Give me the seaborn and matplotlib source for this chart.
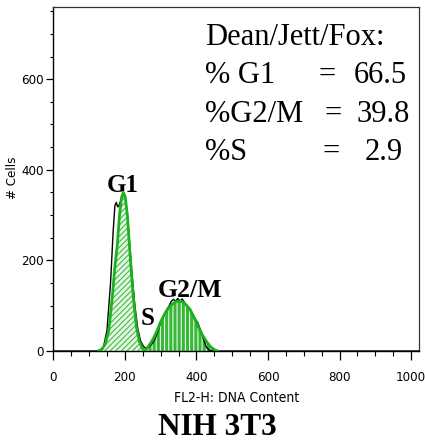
import matplotlib
matplotlib.use("Agg")
import matplotlib.pyplot as plt
from matplotlib import font_manager as fm
import pandas as pd
import seaborn as sns

# Raw DNA-content histogram (FL2-H channel vs. number of cells)
hist_channel = [0, 120, 130, 140, 150, 160, 167, 172, 176, 180, 184, 190, 196, 202,
                208, 214, 220, 228, 236, 244, 252, 260, 268, 276, 284, 292, 300, 308,
                316, 324, 330, 336, 342, 348, 354, 360, 366, 372, 380, 388, 396, 404,
                412, 420, 428, 436, 444, 1023]
hist_count = [0, 0, 2, 8, 45, 150, 260, 320, 328, 318, 322, 335, 345, 335,
              295, 230, 170, 100, 50, 22, 10, 6, 9, 16, 26, 42, 62, 78,
              90, 100, 110, 114, 110, 116, 110, 115, 108, 100, 95, 82, 72, 62,
              45, 25, 8, 2, 0, 0]

# Fitted G1 peak
g1_channel = [125, 135, 145, 155, 165, 172, 179, 185, 191, 196, 201, 207, 213,
              218, 224, 232, 240, 248, 258]
g1_count = [0, 3, 15, 45, 120, 185, 235, 300, 340, 350, 340, 300, 230,
            175, 115, 55, 22, 7, 0]

# Fitted G2/M peak
g2_channel = [250, 260, 270, 280, 290, 298, 310, 320, 326, 335, 343, 352, 360,
              370, 382, 393, 405, 417, 429, 440, 452, 460]
g2_count = [0, 4, 15, 28, 45, 61, 80, 92, 98, 105, 109, 110, 109,
            103, 92, 75, 54, 35, 20, 9, 2, 0]

# Dean/Jett/Fox model results
stat_labels = ["% G1", "%G2/M", "%S"]
stat_values = ["66.5", "39.8", "2.9"]

x_ticks = [0, 200, 400, 600, 800, 1000]
y_ticks = [0, 200, 400, 600]

sns.set_style("ticks")
plt.rcParams.update({
    "hatch.linewidth": 0.8,
    "text.color": "black",
    "xtick.color": "black",
    "ytick.color": "black",
    "axes.edgecolor": "black",
})

W, H = 425, 444
fig = plt.figure(figsize=(W / 100, H / 100), dpi=100)
ax = fig.add_axes([53.3 / W, 1 - 351 / H, (419.3 - 53.3) / W, (351 - 6.7) / H])


def px(x, y):
    return x / W, 1 - y / H


def axis_font(size):
    """Narrow sans face for axis text when one is available."""
    for f in fm.fontManager.ttflist:
        if f.weight in (400, "normal", "regular") and f.style == "normal" and (
                f.stretch in ("condensed", "semi-condensed", "extra-condensed")
                or "Narrow" in f.name or "Condensed" in f.name):
            return fm.FontProperties(fname=f.fname, size=size)
    return fm.FontProperties(family=["Liberation Sans", "DejaVu Sans"], size=size - 1)


SERIF = ["Liberation Serif", "DejaVu Serif"]
GREEN = "#1db21d"

# shaded model components
ax.fill_between(g1_channel, g1_count, facecolor="#e4f6e4", edgecolor="#44bb44",
                hatch="//////", linewidth=0, zorder=1)
ax.fill_between(g2_channel, g2_count, facecolor="#38b838", edgecolor="#e6f7e6",
                hatch="||||", linewidth=0, zorder=1)

hist_df = pd.DataFrame({"channel": hist_channel, "count": hist_count})
g1_df = pd.DataFrame({"channel": g1_channel, "count": g1_count})
g2_df = pd.DataFrame({"channel": g2_channel, "count": g2_count})

sns.lineplot(data=hist_df, x="channel", y="count", color="black", linewidth=1.0,
             estimator=None, sort=False, ax=ax, zorder=3)
sns.lineplot(data=g1_df, x="channel", y="count", color=GREEN, linewidth=2.0,
             estimator=None, sort=False, ax=ax, zorder=4)
sns.lineplot(data=g2_df, x="channel", y="count", color=GREEN, linewidth=2.0,
             estimator=None, sort=False, ax=ax, zorder=4)

ax.set_xlim(0, 1023)
ax.set_ylim(0, 760)
ax.set_xlabel("")
ax.set_ylabel("")

tick_font = axis_font(9.5)
ax.set_xticks(x_ticks)
ax.set_yticks(y_ticks)
ax.set_xticks(range(0, 1023, 50), minor=True)
ax.set_yticks(range(0, 760, 50), minor=True)
ax.set_xticklabels([str(t) for t in x_ticks], fontproperties=tick_font)
ax.set_yticklabels([str(t) for t in y_ticks], fontproperties=tick_font)
ax.tick_params(axis="x", which="major", direction="out", length=6.5, width=0.9, pad=8)
ax.tick_params(axis="x", which="minor", direction="out", length=3.6, width=0.8)
ax.tick_params(axis="y", which="major", direction="out", length=5, width=0.9, pad=2)
ax.tick_params(axis="y", which="minor", direction="out", length=2.5, width=0.8)

for side in ["left", "bottom"]:
    ax.spines[side].set_color("black")
    ax.spines[side].set_linewidth(1.0)
for side in ["top", "right"]:
    ax.spines[side].set_visible(True)
    ax.spines[side].set_color("#333333")
    ax.spines[side].set_linewidth(0.9)

# phase labels on the peaks
ax.text(195, 350, "G1", family=SERIF, fontsize=18, fontweight="bold",
        ha="center", va="baseline", zorder=5)
ax.text(381, 120, "G2/M", family=SERIF, fontsize=18.5, fontweight="bold",
        ha="center", va="baseline", zorder=5)
ax.text(264, 57, "S", family=SERIF, fontsize=18, fontweight="bold",
        ha="center", va="baseline", zorder=5)

# model summary
fig.text(*px(205, 45), "Dean/Jett/Fox:", family=SERIF, fontsize=22, va="baseline")
row_y = [83, 122, 160]
eq_x = [327, 333, 331]
value_x = [354, 357, 365]
for lab, val, y, ex, vx in zip(stat_labels, stat_values, row_y, eq_x, value_x):
    fig.text(*px(205, y), lab, family=SERIF, fontsize=22, va="baseline")
    fig.text(*px(ex, y), "=", family=SERIF, fontsize=22, va="baseline", ha="center")
    fig.text(*px(vx, y), val, family=SERIF, fontsize=22, va="baseline")

fig.text(*px(12, 178), "# Cells", fontproperties=axis_font(9.5), rotation=90,
         ha="center", va="center")
fig.text(*px(236.7, 397.5), "FL2-H: DNA Content", fontproperties=axis_font(10),
         ha="center", va="center")
fig.text(*px(217.5, 435), "NIH 3T3", family=SERIF, fontsize=22.5, fontweight="bold",
         ha="center", va="baseline")

fig.savefig("out.png", dpi=100)
